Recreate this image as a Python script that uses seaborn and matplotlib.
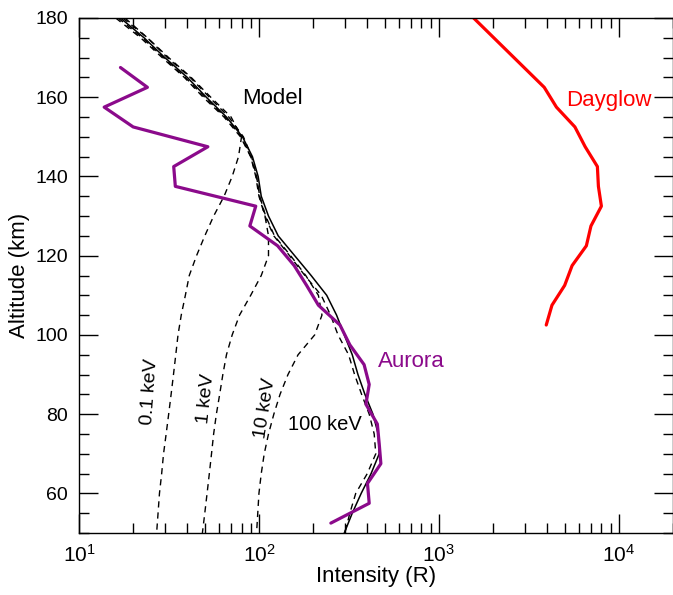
import matplotlib
matplotlib.use("Agg")
import matplotlib.pyplot as plt
import matplotlib.ticker as mticker
import numpy as np
import pandas as pd
import seaborn as sns

# model altitude grid (km)
ALT_MODEL = [180, 175, 170, 165, 160, 155, 150, 145, 140, 135, 130, 125, 120,
             115, 110, 105, 100, 95, 90, 85, 80, 75, 70, 65, 60, 55, 50]
TOTAL = [17, 23, 30, 40, 51, 66, 81, 92, 99, 103, 113, 128, 158,
         195, 238, 270, 298, 330, 355, 388, 430, 460, 466, 420, 370, 330, 298]
E_01 = [18, 24, 31.5, 42, 54, 70, 80, 77, 71, 64, 56, 50, 45,
        41, 39, 37, 35.5, 34.5, 33.5, 32.5, 31.5, 30.5, 29.5, 28.8, 28, 27.5, 27]
E_1 = [16.5, 22.5, 29.5, 39, 50, 65, 80, 90, 97, 101, 108, 113, 113,
       103, 90, 78, 71, 66, 63, 60.5, 58, 56, 54.5, 53, 51.5, 50, 48.5]
E_10 = [17.5, 24, 31, 41.5, 53, 68, 82, 91, 97, 101, 109, 122, 150,
        182, 214, 224, 204, 165, 145, 131, 121, 113, 107, 103, 100, 98.5, 97]
E_100 = [16, 22, 29, 38.5, 49, 64, 79, 90, 96, 100, 108, 121, 148,
         180, 222, 250, 275, 315, 340, 372, 410, 437, 446, 400, 345, 320, 300]

AURORA_ALT = [167.5, 162.5, 157.5, 152.5, 147.5, 142.5, 137.5, 132.5, 127.5, 122.5,
              117.5, 112.5, 107.5, 102.5, 97.5, 92.5, 87.5, 82.5, 77.5, 72.5,
              67.5, 62.5, 57.5, 52.5]
AURORA = [17, 24, 13.8, 20, 52, 33.6, 34.3, 96, 89, 127,
          157, 184, 214, 282, 320, 384, 410, 393, 455, 466,
          476, 401, 410, 251]

DAYGLOW_ALT = [180, 162.5, 157.5, 152.5, 147.5, 142.5, 137.5, 132.5, 127.5,
               122.5, 117.5, 112.5, 107.5, 102.5]
DAYGLOW = [1560, 3850, 4500, 5700, 6500, 7600, 7700, 8000, 7000,
           6600, 5500, 5000, 4250, 3950]

sns.set_style("ticks")
plt.rcParams.update({
    "font.family": ["Liberation Sans", "DejaVu Sans"],
    "font.size": 14,
    "mathtext.default": "regular",
    "mathtext.fontset": "custom",
    "mathtext.rm": "Liberation Sans",
    "axes.linewidth": 1.0,
    "axes.edgecolor": "black",
    "text.color": "black",
    "axes.labelcolor": "black",
    "xtick.color": "black",
    "ytick.color": "black",
})

PURPLE = "#8B0A8B"


def draw(ax, x, y, **kw):
    df = pd.DataFrame({"I": x, "alt": y})
    sns.lineplot(data=df, x="I", y="alt", sort=False, estimator=None,
                 orient="y", ax=ax, **kw)


fig = plt.figure(figsize=(6.73, 5.95), dpi=100)
ax = fig.add_axes([79 / 673, 1 - 533 / 595, 594 / 673, 515 / 595])

dash = (4.5, 3.5)
for vals in (E_01, E_1, E_10, E_100):
    draw(ax, vals, ALT_MODEL, color="black", linewidth=1.0, dashes=dash)
draw(ax, TOTAL, ALT_MODEL, color="black", linewidth=1.1)
draw(ax, AURORA, AURORA_ALT, color=PURPLE, linewidth=2.3)
draw(ax, DAYGLOW, DAYGLOW_ALT, color="#FF0000", linewidth=2.3)

ax.set_xscale("log")
ax.set_xlim(10, 2e4)
ax.set_ylim(50, 180)
ax.yaxis.set_major_locator(mticker.MultipleLocator(20))
ax.yaxis.set_minor_locator(mticker.MultipleLocator(5))
ax.xaxis.set_major_locator(mticker.LogLocator(base=10))
ax.xaxis.set_minor_locator(mticker.LogLocator(base=10, subs=np.arange(2, 10)))
ax.tick_params(which="both", direction="in", top=True, right=True, labelsize=14)
ax.tick_params(axis="x", labelsize=15)
ax.tick_params(which="major", length=14, width=1.0, pad=8)
ax.tick_params(which="minor", length=7, width=1.0)
for s in ax.spines.values():
    s.set_visible(True)

ax.set_xlabel("Intensity (R)", fontsize=16, labelpad=0)
ax.set_ylabel("Altitude (km)", fontsize=16, labelpad=4)

ax.text(81, 159.6, "Model", fontsize=16, va="center")
ax.text(5080, 159.3, "Dayglow", fontsize=16, color="#FF0000", va="center")
ax.text(458, 93.2, "Aurora", fontsize=16, color=PURPLE, va="center")
ax.text(24.8, 85.6, "0.1 keV", fontsize=14, rotation=86, ha="center", va="center")
ax.text(50.8, 83.8, "1 keV", fontsize=14, rotation=84, ha="center", va="center")
ax.text(109, 81.6, "10 keV", fontsize=14, rotation=81, ha="center", va="center")
ax.text(233, 77.3, "100 keV", fontsize=14.5, ha="center", va="center")

fig.savefig("out.png", dpi=100)
